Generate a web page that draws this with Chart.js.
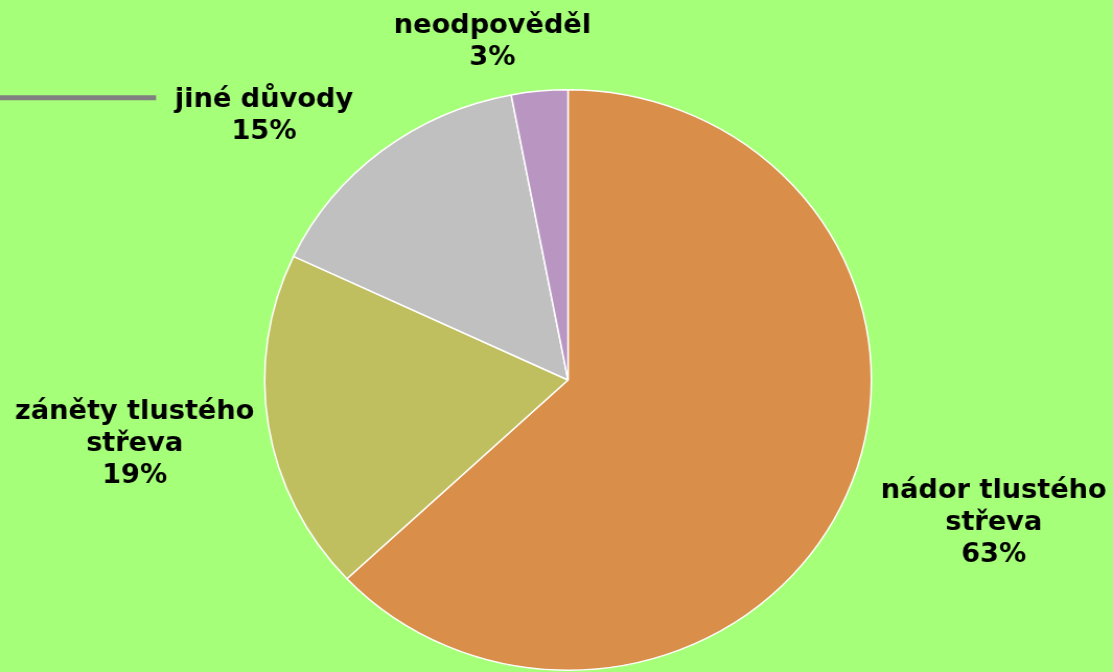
<!DOCTYPE html>
<html>
<head>
<meta charset="utf-8">
<script src="https://cdn.jsdelivr.net/npm/chart.js@4/dist/chart.umd.min.js"></script>
<style>
    html, body { margin: 0; padding: 0; background: #a6ff78; overflow: hidden; }
    /* the source picture is slightly stretched sideways, so the canvas is too */
    #pie { display: block; transform: scaleX(1.04507); transform-origin: 0 0; }
</style>
</head>
<body>
<canvas id="pie" width="1065" height="672"></canvas>
<script>
const labels = [
    ['nádor tlustého', 'střeva'],
    ['záněty tlustého', 'střeva'],
    ['jiné důvody'],
    ['neodpověděl']
];
const shares = [63, 19, 15, 3];
const colors = ['#d98e49', '#c0bf5f', '#c0c0c0', '#b996c2'];

// label block offsets from the outer middle point of each slice
const labelOffsets = [[141, 28], [-128, 19], [-113, -34], [-45, -49]];

const sliceLabels = {
    id: 'sliceLabels',
    afterDatasetsDraw(chart) {
        const ctx = chart.ctx;
        const meta = chart.getDatasetMeta(0);
        const lineH = 32;
        ctx.save();
        ctx.font = "bold 26px 'DejaVu Sans'";
        ctx.fillStyle = '#000';
        ctx.textAlign = 'center';
        ctx.textBaseline = 'middle';
        meta.data.forEach((arc, i) => {
            const mid = (arc.startAngle + arc.endAngle) / 2;
            const px = arc.x + Math.cos(mid) * arc.outerRadius + labelOffsets[i][0];
            const py = arc.y + Math.sin(mid) * arc.outerRadius + labelOffsets[i][1];
            const lines = labels[i].concat([shares[i] + '%']);
            const top = py - (lines.length - 1) * lineH / 2;
            lines.forEach((t, k) => ctx.fillText(t, px, top + k * lineH));

            // leftover leader line next to "jiné důvody"
            if (i === 2) {
                const w = ctx.measureText(labels[i][0]).width;
                ctx.strokeStyle = '#808080';
                ctx.lineWidth = 5;
                ctx.beginPath();
                ctx.moveTo(0, top - 3);
                ctx.lineTo(px - w / 2 - 18, top - 3);
                ctx.stroke();
            }
        });
        ctx.restore();
    }
};

new Chart(document.getElementById('pie'), {
    type: 'pie',
    data: {
        labels: labels.map(l => l.join(' ')),
        datasets: [{
            data: shares,
            backgroundColor: colors,
            borderColor: '#ffffff',
            borderWidth: 1.5
        }]
    },
    options: {
        responsive: false,
        animation: false,
        layout: { padding: { top: 89, bottom: 1, left: 250, right: 228 } },
        plugins: {
            legend: { display: false },
            tooltip: { enabled: false }
        }
    },
    plugins: [sliceLabels]
});
</script>
</body>
</html>
